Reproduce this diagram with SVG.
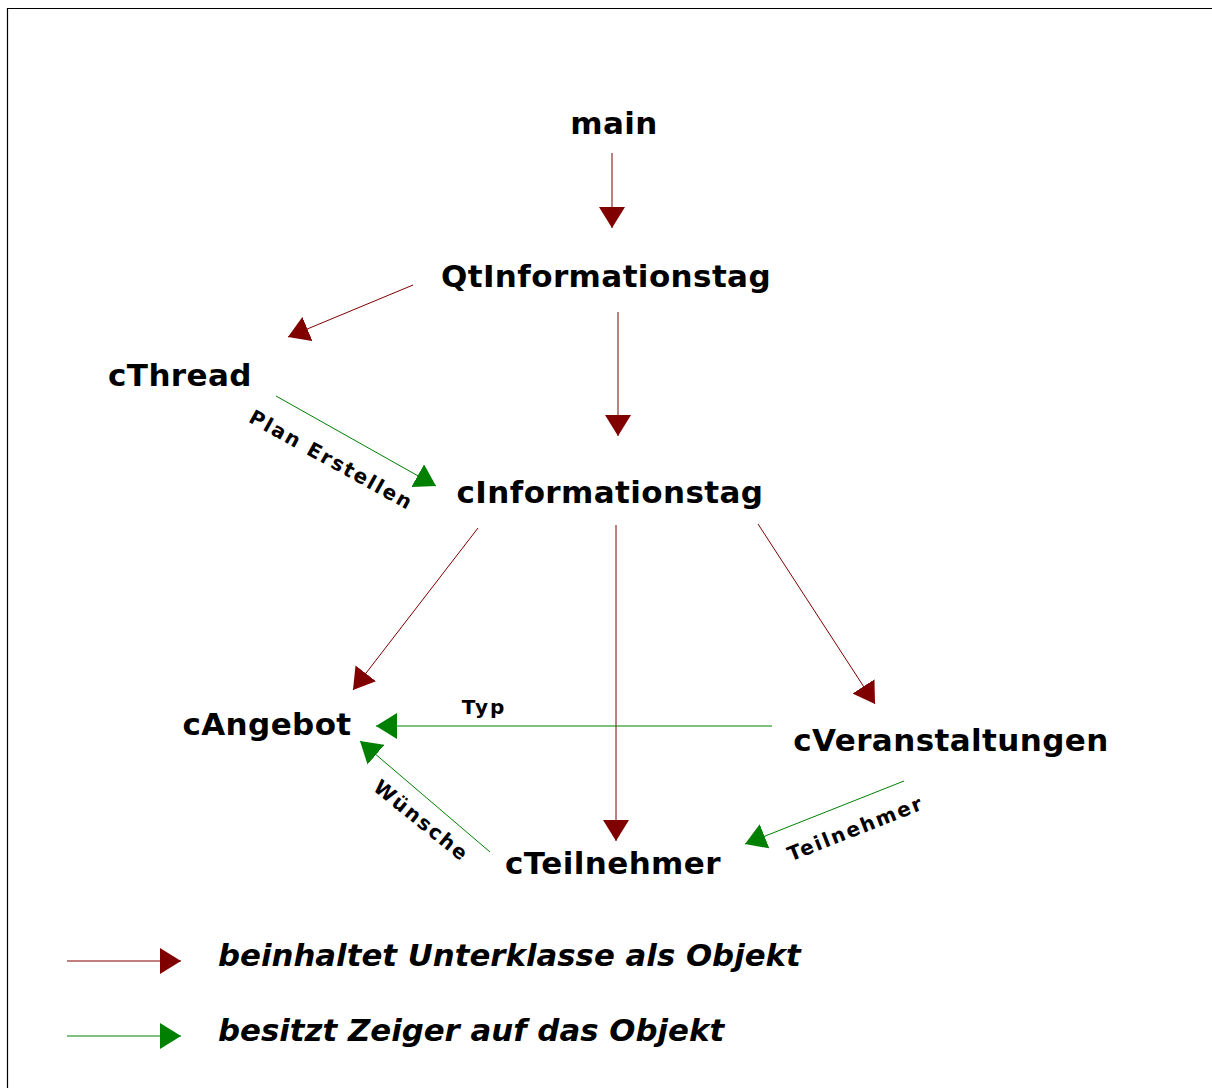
<svg xmlns="http://www.w3.org/2000/svg" width="1212" height="1088" viewBox="0 0 1212 1088">
<style>
.node{font-family:"DejaVu Sans",Verdana,sans-serif;font-weight:bold;font-size:31px;letter-spacing:0.4px;fill:#000;text-anchor:middle}
.lbl{font-family:"DejaVu Sans",Verdana,sans-serif;font-weight:bold;font-size:20px;letter-spacing:2px;fill:#000;text-anchor:middle}
.leg{font-family:"DejaVu Sans",Verdana,sans-serif;font-weight:bold;font-style:italic;font-size:30.8px;fill:#000}
.red{stroke:#800000;stroke-width:1;fill:none;marker-end:url(#hr)}
.grn{stroke:#008000;stroke-width:1;fill:none;marker-end:url(#hg)}
</style>
<defs>
<marker id="hr" markerUnits="userSpaceOnUse" markerWidth="22" markerHeight="26" refX="21" refY="13" orient="auto" viewBox="0 0 22 26"><path d="M0,0 L21,13 L0,26 z" fill="#800000"/></marker>
<marker id="hg" markerUnits="userSpaceOnUse" markerWidth="22" markerHeight="26" refX="21" refY="13" orient="auto" viewBox="0 0 22 26"><path d="M0,0 L21,13 L0,26 z" fill="#008000"/></marker>
</defs>
<rect x="0" y="0" width="1212" height="1088" fill="#fff"/>
<path d="M7.5,1088 L7.5,8.5 L1212,8.5" stroke="#000" stroke-width="1.2" fill="none"/>
<g id="connectors">
<line class="red" x1="612" y1="153" x2="612" y2="228"/>
<line class="red" x1="413" y1="285" x2="288" y2="337"/>
<line class="red" x1="618" y1="312" x2="618" y2="436"/>
<line class="red" x1="478" y1="528" x2="353" y2="690"/>
<line class="red" x1="616" y1="525" x2="616" y2="841"/>
<line class="red" x1="758" y1="524" x2="875" y2="704"/>
<line class="grn" x1="276" y1="396" x2="436" y2="486"/>
<line class="grn" x1="772" y1="726" x2="376" y2="726"/>
<line class="grn" x1="490" y1="852" x2="360" y2="741"/>
<line class="grn" x1="904" y1="781" x2="745" y2="844"/>
<text class="lbl" transform="translate(328,466) rotate(29)">Plan Erstellen</text>
<text class="lbl" x="484" y="714">Typ</text>
<text class="lbl" transform="translate(417,826) rotate(39)">Wünsche</text>
<text class="lbl" transform="translate(858,835) rotate(-21.5)">Teilnehmer</text>
</g>
<g id="main"><text class="node" x="614" y="134">main</text></g>
<g id="QtInformationstag"><text class="node" x="606" y="287">QtInformationstag</text></g>
<g id="cThread"><text class="node" x="180" y="386">cThread</text></g>
<g id="cInformationstag"><text class="node" x="610" y="503">cInformationstag</text></g>
<g id="cAngebot"><text class="node" x="267" y="735">cAngebot</text></g>
<g id="cVeranstaltungen"><text class="node" x="951" y="751">cVeranstaltungen</text></g>
<g id="cTeilnehmer"><text class="node" x="613" y="874">cTeilnehmer</text></g>
<g id="legend">
<line class="red" x1="67" y1="961" x2="181" y2="961"/>
<text class="leg" x="218" y="966">beinhaltet Unterklasse als Objekt</text>
<line class="grn" x1="67" y1="1036" x2="181" y2="1036"/>
<text class="leg" x="218" y="1041">besitzt Zeiger auf das Objekt</text>
</g>
</svg>
